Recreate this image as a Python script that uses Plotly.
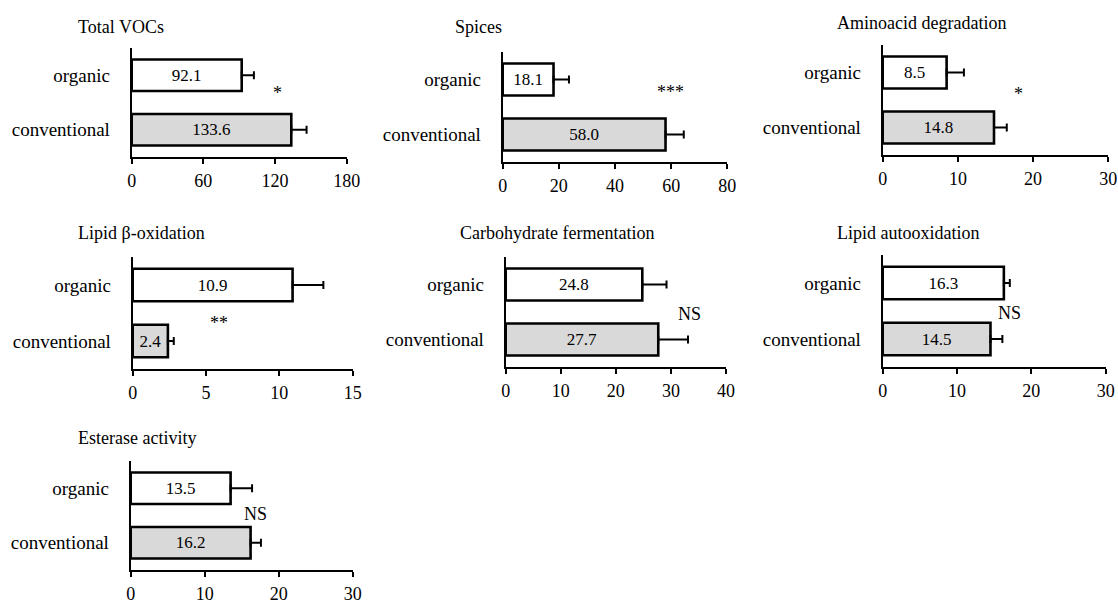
import plotly.graph_objects as go

# ---------------- data ----------------
categories = ["conventional", "organic"]
panel_titles = ["Total VOCs", "Spices", "Aminoacid degradation", "Lipid β-oxidation",
                "Carbohydrate fermentation", "Lipid autooxidation", "Esterase activity"]
organic_means = [92.1, 18.1, 8.5, 10.9, 24.8, 16.3, 13.5]
conventional_means = [133.6, 58.0, 14.8, 2.4, 27.7, 14.5, 16.2]
organic_err = [10.2, 5.5, 2.3, 2.1, 4.4, 0.8, 2.9]
conventional_err = [12.8, 6.5, 1.7, 0.4, 5.4, 1.6, 1.4]
significance = ["*", "***", "*", "**", "NS", "NS", "NS"]
x_max = [180, 80, 30, 15, 40, 30, 30]
tick_step = [60, 20, 10, 5, 10, 10, 10]

# ---------------- layout constants ----------------
W, H = 1118, 606
# plot boxes in pixels: (left, right, top, bottom)
boxes = [(131.7, 346.7, 48, 157), (502.7, 727.3, 52, 162), (882.7, 1108.3, 45, 155),
         (132.7, 352.7, 257, 369), (505.7, 726.0, 257, 367), (882.7, 1105.7, 255, 367),
         (130.7, 352.7, 461, 570)]
title_pos = [(76, 27), (453, 27), (835, 23), (76, 233), (458, 233), (835, 233), (76, 438)]
sig_pos = [(122.4, 0.68), (59.9, 0.77), (18.0, 0.61), (5.9, 0.32), (33.3, 0.47), (17.0, 0.46), (16.8, 0.52)]

FONT = "Palatino Linotype, Book Antiqua, Palatino, Liberation Serif, serif"
fill_colors = ["#d9d9d9", "#ffffff"]

fig = go.Figure()
annotations = []
for i in range(7):
    xa = "x" if i == 0 else f"x{i+1}"
    ya = "y" if i == 0 else f"y{i+1}"
    vals = [conventional_means[i], organic_means[i]]
    errs = [conventional_err[i], organic_err[i]]
    fig.add_trace(go.Bar(
        y=categories, x=vals, orientation="h", xaxis=xa, yaxis=ya,
        marker=dict(color=fill_colors, line=dict(color="black", width=2.6)),
        width=0.58,
        text=[f"{v:.1f}" for v in vals], textposition="inside",
        insidetextanchor="middle", constraintext="none",
        textfont=dict(family=FONT, size=17, color="black"),
        error_x=dict(type="data", array=errs, symmetric=False, arrayminus=[0, 0],
                     color="black", thickness=2, width=4),
        showlegend=False, hoverinfo="skip", cliponaxis=False,
    ))
    l, r, t, b = boxes[i]
    xkey = "xaxis" if i == 0 else f"xaxis{i+1}"
    ykey = "yaxis" if i == 0 else f"yaxis{i+1}"
    ticks = list(range(0, x_max[i] + 1, tick_step[i]))
    fig.update_layout({
        xkey: dict(domain=[l / W, r / W], anchor=ya, range=[0, x_max[i]], automargin=False,
                   tickvals=ticks, ticktext=[str(v) for v in ticks],
                   showline=True, linecolor="black", linewidth=2,
                   ticks="outside", ticklen=5, tickwidth=2, tickcolor="black",
                   showgrid=False, zeroline=False, ticklabelstandoff=1,
                   tickfont=dict(family=FONT, size=18, color="black"), fixedrange=True),
        ykey: dict(domain=[1 - b / H, 1 - t / H], anchor=xa, type="category", automargin=False,
                   categoryorder="array", categoryarray=categories, range=[-0.5, 1.5],
                   showline=True, linecolor="black", linewidth=2, ticks="",
                   showgrid=False, zeroline=False, ticklabelstandoff=16,
                   tickfont=dict(family=FONT, size=19, color="black"), fixedrange=True),
    })
    tx, ty = title_pos[i]
    annotations.append(dict(text=panel_titles[i], x=tx / W, y=1 - ty / H, xref="paper", yref="paper",
                            xanchor="left", yanchor="middle", showarrow=False,
                            font=dict(family=FONT, size=18, color="black")))
    sx, sy = sig_pos[i]
    annotations.append(dict(text=significance[i], x=sx, y=sy, xref=xa, yref=ya,
                            xanchor="center", yanchor="middle", showarrow=False,
                            font=dict(family=FONT, size=18, color="black")))

fig.update_layout(
    width=W, height=H, autosize=False, margin=dict(l=0, r=0, t=0, b=0, autoexpand=False),
    paper_bgcolor="white", plot_bgcolor="white",
    annotations=annotations, barmode="group",
)
fig.write_html("out.html",
               config={"displayModeBar": False, "responsive": False},
               post_script="document.documentElement.style.overflow='hidden';"
                           "document.body.style.margin='0';document.body.style.overflow='hidden';")
